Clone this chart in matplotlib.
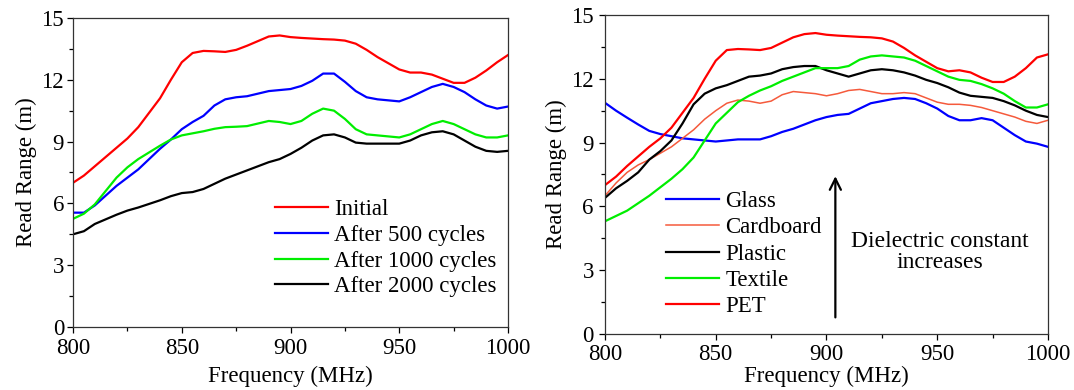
import matplotlib
matplotlib.use('Agg')
import matplotlib.pyplot as plt
from matplotlib.ticker import MultipleLocator

plt.rcParams['font.family'] = ['Liberation Serif', 'DejaVu Serif']

# left panel: washing cycles
freq_a = [800, 805, 810, 820, 825, 830, 840, 845, 850, 855, 860, 865, 870, 875, 880,
          890, 895, 900, 905, 910, 915, 920, 925, 930, 935, 940, 950, 955, 960, 965,
          970, 975, 980, 985, 990, 995, 1000]
initial = [7.0, 7.35, 7.8, 8.7, 9.15, 9.7, 11.1, 12.0, 12.85, 13.3, 13.4, 13.38, 13.35, 13.45, 13.65,
           14.1, 14.15, 14.07, 14.03, 14.0, 13.97, 13.95, 13.9, 13.75, 13.45, 13.1, 12.5, 12.35, 12.35, 12.25,
           12.05, 11.85, 11.85, 12.1, 12.45, 12.85, 13.2]
after500 = [5.55, 5.55, 5.9, 6.85, 7.25, 7.65, 8.65, 9.1, 9.6, 9.95, 10.25, 10.75, 11.05, 11.15, 11.2,
            11.45, 11.5, 11.55, 11.7, 11.95, 12.3, 12.3, 11.9, 11.45, 11.15, 11.05, 10.95, 11.15, 11.4, 11.65,
            11.8, 11.65, 11.4, 11.05, 10.75, 10.6, 10.7]
after1000 = [5.25, 5.5, 5.95, 7.25, 7.75, 8.15, 8.8, 9.1, 9.3, 9.4, 9.5, 9.62, 9.7, 9.72, 9.75,
             10.0, 9.95, 9.85, 10.0, 10.35, 10.6, 10.5, 10.1, 9.6, 9.35, 9.3, 9.2, 9.35, 9.6, 9.85,
             10.0, 9.85, 9.6, 9.35, 9.2, 9.2, 9.3]
after2000 = [4.5, 4.65, 5.0, 5.45, 5.65, 5.8, 6.15, 6.35, 6.5, 6.55, 6.7, 6.95, 7.2, 7.4, 7.6,
             8.0, 8.15, 8.4, 8.7, 9.05, 9.3, 9.35, 9.2, 8.95, 8.9, 8.9, 8.9, 9.05, 9.3, 9.45,
             9.5, 9.35, 9.05, 8.75, 8.55, 8.5, 8.55]

# right panel: substrates
freq_b = [800, 805, 810, 815, 820, 825, 830, 835, 840, 845, 850, 855, 860, 865, 870, 875, 880,
          885, 890, 895, 900, 905, 910, 915, 920, 925, 930, 935, 940, 945, 950, 955, 960,
          965, 970, 975, 980, 985, 990, 995, 1000]
glass = [10.87, 10.5, 10.17, 9.85, 9.55, 9.4, 9.3, 9.2, 9.15, 9.1, 9.05, 9.1, 9.15, 9.15, 9.15, 9.3, 9.5,
         9.65, 9.85, 10.05, 10.2, 10.3, 10.35, 10.6, 10.85, 10.95, 11.05, 11.1, 11.05, 10.85, 10.6, 10.25, 10.05,
         10.05, 10.15, 10.05, 9.7, 9.35, 9.05, 8.95, 8.8]
cardboard = [6.5, 7.1, 7.6, 7.95, 8.2, 8.5, 8.8, 9.2, 9.6, 10.1, 10.5, 10.85, 11.0, 10.95, 10.85, 10.95, 11.25,
             11.4, 11.35, 11.3, 11.2, 11.3, 11.45, 11.5, 11.4, 11.3, 11.3, 11.35, 11.3, 11.1, 10.9, 10.8, 10.8,
             10.75, 10.65, 10.5, 10.35, 10.2, 10.0, 9.9, 10.05]
plastic = [6.4, 6.85, 7.2, 7.6, 8.2, 8.6, 9.1, 9.9, 10.8, 11.3, 11.55, 11.7, 11.9, 12.1, 12.15, 12.25, 12.45,
           12.55, 12.6, 12.6, 12.4, 12.25, 12.1, 12.25, 12.4, 12.45, 12.4, 12.3, 12.15, 11.95, 11.8, 11.6, 11.35,
           11.2, 11.15, 11.1, 10.95, 10.75, 10.5, 10.3, 10.2]
textile = [5.3, 5.55, 5.8, 6.15, 6.5, 6.9, 7.3, 7.75, 8.3, 9.1, 9.9, 10.4, 10.9, 11.2, 11.45, 11.65, 11.9,
           12.1, 12.3, 12.5, 12.5, 12.5, 12.6, 12.9, 13.05, 13.1, 13.05, 13.0, 12.85, 12.6, 12.35, 12.1, 11.95,
           11.9, 11.75, 11.55, 11.3, 10.95, 10.65, 10.65, 10.8]
pet = [7.0, 7.4, 7.9, 8.35, 8.8, 9.2, 9.7, 10.4, 11.1, 12.0, 12.85, 13.35, 13.4, 13.38, 13.35, 13.45, 13.7,
       13.95, 14.1, 14.15, 14.07, 14.03, 14.0, 13.97, 13.95, 13.9, 13.75, 13.45, 13.1, 12.8, 12.5, 12.35, 12.4,
       12.3, 12.05, 11.85, 11.85, 12.1, 12.5, 13.0, 13.15]

fs = 16.5

fig = plt.figure(figsize=(10.74, 3.9), dpi=100)
ax1 = fig.add_axes([0.068, 0.1615, 0.405, 0.7925])
ax2 = fig.add_axes([0.5633, 0.1436, 0.4125, 0.818])

lw = 1.6
ax1.plot(freq_a, initial, color='#ff0000', lw=lw, label='Initial')
ax1.plot(freq_a, after500, color='#0000ff', lw=lw, label='After 500 cycles')
ax1.plot(freq_a, after1000, color='#00ee00', lw=lw, label='After 1000 cycles')
ax1.plot(freq_a, after2000, color='black', lw=lw, label='After 2000 cycles')

ax2.plot(freq_b, glass, color='#0000ff', lw=lw, label='Glass')
ax2.plot(freq_b, cardboard, color='#f55a3c', lw=1.1, label='Cardboard')
ax2.plot(freq_b, plastic, color='black', lw=lw, label='Plastic')
ax2.plot(freq_b, textile, color='#00ee00', lw=lw, label='Textile')
ax2.plot(freq_b, pet, color='#ff0000', lw=lw, label='PET')

ax2.annotate('', xy=(904, 7.55), xytext=(904, 0.65),
             arrowprops=dict(arrowstyle='->', color='black', lw=1.6, mutation_scale=20))
ax2.text(951, 3.85, 'Dielectric constant\nincreases', ha='center', va='center',
         fontsize=17, linespacing=1.0)

for ax in (ax1, ax2):
    ax.set_xlim(800, 1000)
    ax.set_ylim(0, 15)
    ax.xaxis.set_major_locator(MultipleLocator(50))
    ax.xaxis.set_minor_locator(MultipleLocator(25))
    ax.yaxis.set_major_locator(MultipleLocator(3))
    ax.yaxis.set_minor_locator(MultipleLocator(1.5))
    ax.tick_params(which='major', direction='out', length=4.5, width=0.9, labelsize=fs, pad=2)
    ax.tick_params(which='minor', direction='out', length=3, width=0.9)
    for s in ax.spines.values():
        s.set_linewidth(0.9)
        s.set_color('#333333')
    ax.set_ylabel('Read Range (m)', fontsize=fs, labelpad=3)

ax1.tick_params(axis='x', which='major', pad=3.5)
ax1.set_xlabel('Frequency (MHz)', fontsize=fs, labelpad=5)
ax2.tick_params(axis='x', which='major', pad=3.0)
ax2.tick_params(axis='y', which='major', pad=3.5)
ax2.set_xlabel('Frequency (MHz)', fontsize=fs, labelpad=0)

ax1.legend(loc='center left', bbox_to_anchor=(0.465, 0.255), frameon=False, fontsize=fs,
           handlelength=2.3, handletextpad=0.28, labelspacing=0.2, borderpad=0, borderaxespad=0)
ax2.legend(loc='center left', bbox_to_anchor=(0.138, 0.25), frameon=False, fontsize=fs,
           handlelength=2.3, handletextpad=0.28, labelspacing=0.23, borderpad=0, borderaxespad=0)

fig.savefig('out.png', dpi=100)
